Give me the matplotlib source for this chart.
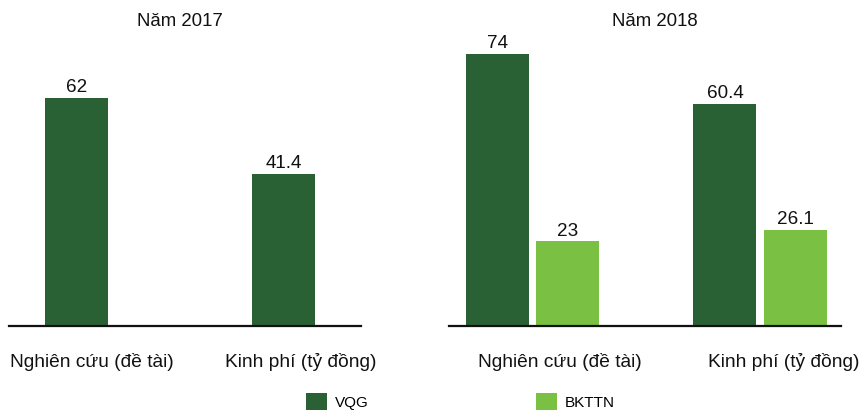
import matplotlib
matplotlib.use("Agg")
import matplotlib.pyplot as plt
from matplotlib.patches import Patch

plt.rcParams["font.family"] = ["Liberation Sans", "DejaVu Sans"]

# Data
categories = ["Nghiên cứu (đề tài)", "Kinh phí (tỷ đồng)"]
years = ["Năm 2017", "Năm 2018"]
series_names = ["VQG", "BKTTN"]
vqg_2017 = [62, 41.4]
vqg_2018 = [74, 60.4]
bkttn_2018 = [23, 26.1]

colors = {"VQG": "#2A6134", "BKTTN": "#7AC143"}

W, H, DPI = 860, 412, 100
fig = plt.figure(figsize=(W / DPI, H / DPI), dpi=DPI)


def px_axes(x0, x1, y_bottom, y_top):
    return fig.add_axes([x0 / W, (H - y_bottom) / H, (x1 - x0) / W, (y_bottom - y_top) / H])


ymax = 80
ax1 = px_axes(9, 361, 326, 326 - ymax * 3.68)
ax2 = px_axes(449, 841, 326, 326 - ymax * 3.68)

# per-panel layout: x-limits, bar width, bar offset, label x positions, title x (px)
panels = [
    (ax1, years[0], {"VQG": vqg_2017}, (-0.495, 1.205), 0.304, 0.169, [-0.094, 0.913], 180),
    (ax2, years[1], {"VQG": vqg_2018, "BKTTN": bkttn_2018}, (-0.367, 1.356), 0.277, 0.154, [0.121, 1.105], 655),
]

for ax, title, data, xlim, bw, off, label_x, title_x in panels:
    for name, sign in (("VQG", -1), ("BKTTN", 1)):
        if name not in data:
            continue
        vals = data[name]
        xs = [i + sign * off for i in range(len(vals))]
        ax.bar(xs, vals, width=bw, color=colors[name], zorder=2)
        for x, v in zip(xs, vals):
            ax.annotate(f"{v:g}", (x, v), xytext=(0, 5.5), textcoords="offset pixels",
                        ha="center", va="baseline", fontsize=13.6, color="#111111")
    for lx, cat in zip(label_x, categories):
        ax.annotate(cat, (lx, 0), xytext=(0, -41), textcoords="offset pixels",
                    ha="center", va="baseline", fontsize=13.8, color="#111111",
                    annotation_clip=False)
    ax.set_xlim(*xlim)
    ax.set_ylim(0, ymax)
    ax.set_xticks([])
    ax.set_yticks([])
    for s in ("left", "right", "top"):
        ax.spines[s].set_visible(False)
    ax.spines["bottom"].set_linewidth(1.6)
    ax.spines["bottom"].set_color("#111111")
    fig.text(title_x / W, 1 - 21 / H, title, ha="center", va="center",
             fontsize=13.4, color="#111111")

handles = [Patch(facecolor=colors[n], label=n) for n in series_names]
fig.legend(handles=handles, loc="upper left", bbox_to_anchor=(306 / W, (H - 393) / H),
           ncol=2, frameon=False, fontsize=11, handlelength=1.37, handleheight=1.37,
           handletextpad=0.55, columnspacing=10.9, borderpad=0, borderaxespad=0)

fig.savefig("out.png", dpi=DPI)
